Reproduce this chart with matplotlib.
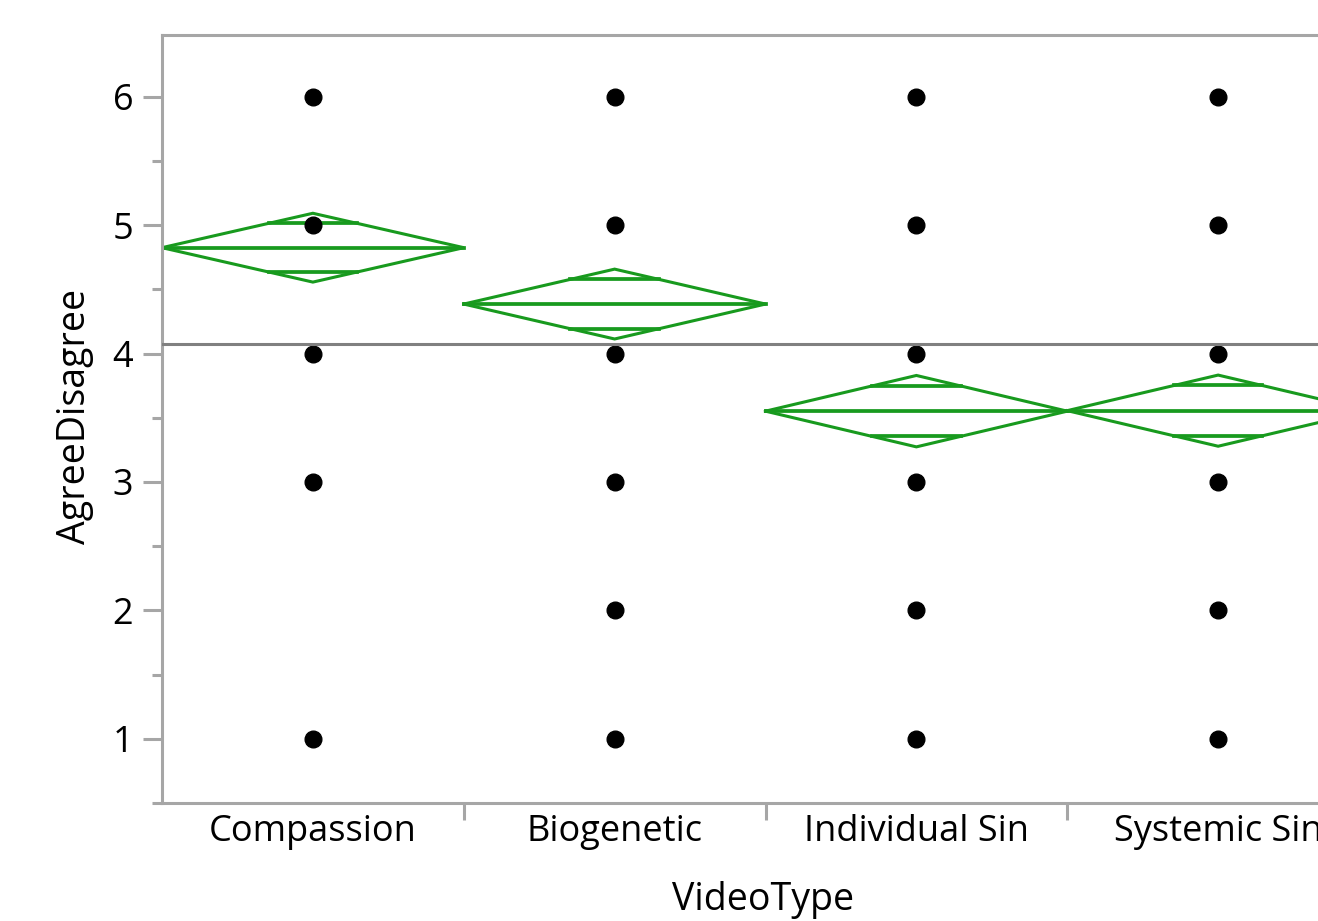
import numpy as np
import matplotlib.pyplot as plt

# data
categories = ["Compassion", "Biogenetic", "Individual Sin", "Systemic Sin"]
point_values = [
    [1, 3, 4, 5, 6],
    [1, 2, 3, 4, 5, 6],
    [1, 2, 3, 4, 5, 6],
    [1, 2, 3, 4, 5, 6],
]
group_means = [4.824, 4.385, 3.551, 3.555]
ci_half = [0.268, 0.272, 0.278, 0.277]
grand_mean = 4.076

plt.rcParams['font.family'] = ['Open Sans', 'DejaVu Sans']

green = '#189a1e'
axis_gray = '#a6a6a6'

fig = plt.figure(figsize=(13.18, 9.21), dpi=100)
# axes run past the right edge of the figure, like the cropped reference
ax_w = 1207
ax = fig.add_axes([162 / 1318, 1 - 803 / 921, ax_w / 1318, (803 - 35) / 921])

# means diamonds
k = 1 - 1 / np.sqrt(2)
for i, (m, h) in enumerate(zip(group_means, ci_half)):
    xs = [i - 0.5, i, i + 0.5, i, i - 0.5]
    ys = [m, m + h, m, m - h, m]
    ax.plot(xs, ys, color=green, lw=2.2, zorder=2, solid_joinstyle='miter')
    ax.plot([i - 0.5, i + 0.5], [m, m], color=green, lw=2.7, zorder=2)
    o = h / np.sqrt(2)
    for yy in (m + o, m - o):
        ax.plot([i - 0.5 * k, i + 0.5 * k], [yy, yy], color=green, lw=2.7, zorder=2)

# data points
for i, vals in enumerate(point_values):
    ax.plot([i] * len(vals), vals, 'o', color='black', ms=12, mec='black', zorder=3)

# grand mean
ax.axhline(grand_mean, color='#808080', lw=2.2, zorder=4)

ax.set_xlim(-0.5, 3.5)
ax.set_ylim(0.5, 6.48)

# y axis
ax.set_yticks([1, 2, 3, 4, 5, 6])
ax.set_yticks(np.arange(0.5, 6.5, 1.0), minor=True)
ax.tick_params(axis='y', which='major', length=13.7, width=2.2, color=axis_gray,
               labelsize=26, pad=7)
ax.tick_params(axis='y', which='minor', length=7, width=2.2, color=axis_gray)

# x axis: separators as major ticks, labels on minor ticks at the centres
ax.set_xticks([0.5, 1.5, 2.5])
ax.set_xticklabels([])
ax.set_xticks(range(len(categories)), minor=True)
ax.set_xticklabels(categories, minor=True)
ax.tick_params(axis='x', which='major', length=12.5, width=2.2, color=axis_gray)
ax.tick_params(axis='x', which='minor', length=0, labelsize=26, pad=8)

for side in ['left', 'bottom', 'top', 'right']:
    ax.spines[side].set_color(axis_gray)
    ax.spines[side].set_linewidth(2.2)

ax.set_xlabel("VideoType", fontsize=27)
ax.set_ylabel("AgreeDisagree", fontsize=27)
ax.xaxis.set_label_coords((763 - 162) / ax_w, -(881 - 803) / 768)
ax.yaxis.set_label_coords(-(162 - 94) / ax_w, (803 - 416) / 768)

fig.savefig("out.png", dpi=100)
